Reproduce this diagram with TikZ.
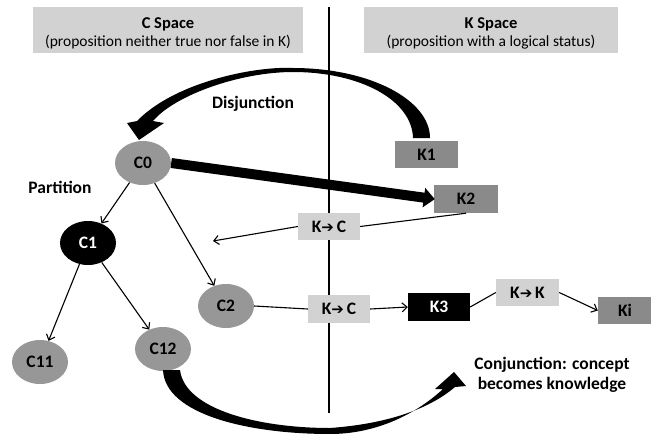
\documentclass[tikz,border=0pt]{standalone}
\usepackage{fontspec}
\setmainfont{Carlito}
\newfontfamily\symfont{DejaVu Sans}
\usetikzlibrary{arrows.meta,shapes.geometric}

\definecolor{cgray}{HTML}{979797}
\definecolor{kgray}{HTML}{8A8A8A}
\definecolor{lgray}{HTML}{D2D2D2}
\newcommand{\KC}[1]{K{\symfont\bfseries\fontsize{15}{17}\selectfont ➔}\,#1}

\tikzset{
  lbl/.style={font=\bfseries\fontsize{17.5}{19}\selectfont},
  cnode/.style={ellipse, fill=cgray, minimum width=56pt, minimum height=44pt, inner sep=0pt, lbl},
  knode/.style={rectangle, fill=kgray, minimum width=63pt, minimum height=27pt, inner sep=0pt, lbl},
  tbox/.style={rectangle, fill=lgray, minimum width=62pt, minimum height=28pt, inner sep=0pt, lbl},
  hbox/.style={rectangle, fill=lgray, inner sep=0pt, minimum height=46pt},
  htitle/.style={font=\bfseries\fontsize{16.5}{18}\selectfont},
  hsub/.style={font=\fontsize{15.5}{17}\selectfont},
  thinarrow/.style={line width=1.1pt, -{Straight Barb[length=5pt,width=9pt]}},
  thinline/.style={line width=1.1pt},
}

\begin{document}
\begin{tikzpicture}[x=1pt,y=-1pt]
\useasboundingbox (0,0) rectangle (651,434);

% header boxes
\node[hbox, minimum width=270pt] (hc) at (168,30) {};
\node[hbox, minimum width=254pt] (hk) at (491,30) {};
\node[htitle] (hct) at (168,24) {C Space};
\node[hsub] (hcs) at (168,42) {(proposition neither true nor false in K)};
\node[htitle] (hkt) at (491,24) {K Space};
\node[hsub] (hks) at (491,42) {(proposition with a logical status)};

% divider
\coordinate (vt) at (329,7);
\coordinate (vb) at (329,413);
\draw[line width=1.1pt] (vt) -- (vb);

% C nodes
\node[cnode] (C0) at (143,163) {C0};
\node[cnode, fill=black, text=white] (C1) at (88,243) {C1};
\node[cnode] (C11) at (40,362) {C11};
\node[cnode] (C12) at (163,349) {C12};
\node[cnode] (C2) at (226,306) {C2};

% K nodes
\node[knode] (K1) at (426.5,154.5) {K1};
\node[knode, minimum width=64pt, minimum height=28pt] (K2) at (466,199) {K2};
\node[knode, fill=black, text=white, minimum width=62pt, minimum height=28pt] (K3) at (439,307) {K3};
\node[knode, minimum width=54pt] (Ki) at (625,310.5) {Ki};
\node[tbox, minimum height=27pt] (KCa) at (329,226.5) {\KC{C}};
\node[tbox] (KCb) at (339,309) {\KC{C}};
\node[tbox, minimum width=63pt, minimum height=27pt] (KK) at (527.5,292.5) {\KC{K}};

% labels
\node[lbl] (dis) at (253,104) {Disjunction};
\node[lbl] (par) at (60,187) {Partition};
\node[lbl, align=center, font=\bfseries\fontsize{17.5}{19.5}\selectfont] (conj) at (552,375) {Conjunction: concept\\becomes knowledge};

% tree arrows
\draw[thinarrow] (C0) -- (C1);
\draw[thinarrow] (C0) -- (C2);
\draw[thinarrow] (C1) -- (C11);
\draw[thinarrow] (C1) -- (C12);

% K -> C top
\coordinate (tipa) at (213,241);
\draw[thinline] (K2.south) -- (KCa.east);
\draw[thinarrow] (KCa.west) -- (tipa);

% bottom chain
\draw[thinline] (C2.east) -- (KCb.west);
\draw[thinarrow] (KCb.east) -- (K3.west);
\draw[thinline] (K3.east) -- (KK.west);
\draw[thinarrow] (KK.east) -- (Ki.west);

% thick arrow C0 -> K2
\draw[line width=10pt, -{Triangle[length=11pt,width=19pt]}, shorten >=-1pt] (C0.east) -- (K2.west);

% Disjunction curved arrow
\fill (430,138) .. controls (430,100) and (370,68) .. (293,68)
  .. controls (255,66) and (175,82) .. (137,121)
  -- (127,123) -- (139,140) -- (164,123) -- (153,121)
  .. controls (175,95) and (240,72) .. (293,72)
  .. controls (360,72) and (412,100) .. (413,138) -- cycle;

% Conjunction curved arrow
\fill (163,370) .. controls (165,415) and (250,434) .. (330,434)
  .. controls (375,434) and (415,415) .. (443,389)
  -- (435,389) -- (454,372) -- (466,386) -- (455,387)
  .. controls (428,410) and (385,424) .. (330,428)
  .. controls (260,428) and (185,410) .. (180,370) -- cycle;
\end{tikzpicture}
\end{document}
